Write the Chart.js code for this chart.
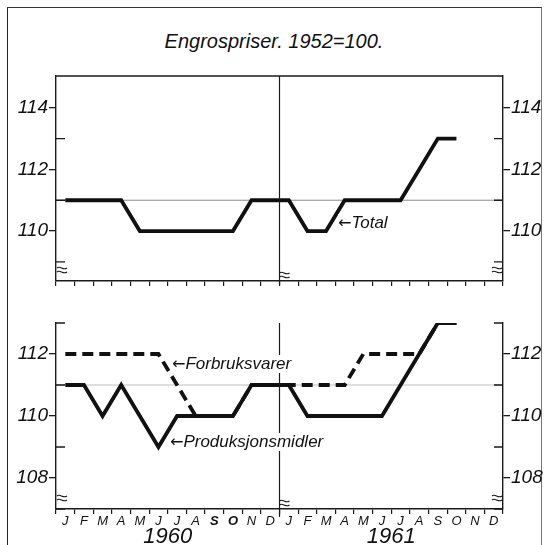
<!DOCTYPE html>
<html>
<head>
<meta charset="utf-8">
<script src="https://cdn.jsdelivr.net/npm/chart.js@4.4.1/dist/chart.umd.min.js"></script>
<style>
  html, body { margin: 0; padding: 0; background: #fff; }
  body { width: 548px; height: 545px; position: relative; overflow: hidden; font-family: "Liberation Sans", "DejaVu Sans", sans-serif; }
  .frame { position: absolute; left: 7px; top: 7px; width: 533px; height: 600px; border-left: 1.5px solid #222; border-top: 1.5px solid #333; border-right: 1px solid #777; }
  .title { position: absolute; left: 0; top: 30px; width: 548px; text-align: center; font-style: italic; font-size: 20px; color: #111; }
  canvas { position: absolute; left: 0; }
  .note { position: absolute; font-style: italic; font-size: 17px; color: #111; background: #fff; line-height: 18px; padding: 0 2px 0 0; white-space: nowrap; }
  .note .arr { font-family: "DejaVu Sans", sans-serif; font-style: normal; font-size: 16px; }
</style>
</head>
<body>
<div class="frame"></div>
<div class="title">Engrospriser. 1952=100.</div>
<canvas id="topChart" width="548" height="300" style="top:0"></canvas>
<canvas id="bottomChart" width="548" height="245" style="top:300px"></canvas>
<div class="note" style="left:338px; top:214px"><span class="arr">←</span>Total</div>
<div class="note" style="left:172px; top:355px"><span class="arr">←</span>Forbruksvarer</div>
<div class="note" style="left:170px; top:433px"><span class="arr">←</span>Produksjonsmidler</div>

<script>
const months = ['J', 'F', 'M', 'A', 'M', 'J', 'J', 'A', 'S', 'O', 'N', 'D'];
const categories = months.concat(months);
const years = ['1960', '1961'];

// monthly values, Jan 1960 - Dec 1961
const total = [111, 111, 111, 111, 110, 110, 110, 110, 110, 110, 111, 111,
               111, 110, 110, 111, 111, 111, 111, 112, 113, 113, null, null];
const forbruksvarer = [112, 112, 112, 112, 112, 112, 111, 110, 110, 110, 111, 111,
                       111, 111, 111, 111, 112, 112, 112, 112, 113, 113, null, null];
const produksjonsmidler = [111, 111, 110, 111, 110, 109, 110, 110, 110, 110, 111, 111,
                           111, 110, 110, 110, 110, 110, 111, 112, 113, 113, null, null];

const topRange = [108.38, 115.03];
const bottomRange = [107, 113];
const refLine = 111;

const ink = '#1a1a1a';
const fontFamily = '"Liberation Sans", "DejaVu Sans", sans-serif';
const isEven = v => Math.abs(v - Math.round(v)) < 1e-6 && Math.round(v) % 2 === 0;

function yAxis(pos, range) {
    return {
        position: pos,
        min: range[0],
        max: range[1],
        afterFit: s => { s.width = pos === 'left' ? 56 : 45; },
        ticks: {
            stepSize: 1,
            autoSkip: false,
            padding: 1,
            color: '#111',
            font: { family: fontFamily, size: 19, style: 'italic' },
            callback: v => isEven(v) ? String(Math.round(v)) : ''
        },
        grid: {
            drawOnChartArea: false,
            tickLength: 7,
            lineWidth: 1.3,
            color: ctx => (ctx.tick && isEven(ctx.tick.value)) ? ink : 'rgba(0,0,0,0)'
        },
        border: { display: true, color: ink, width: 1.4 }
    };
}

function xAxis(showLabels, height) {
    return {
        offset: true,
        afterFit: s => { s.height = height; },
        grid: { offset: true, drawOnChartArea: false, tickLength: 5, lineWidth: 1.2, color: ink },
        border: { display: true, color: ink, width: 1.4 },
        ticks: {
            display: showLabels,
            autoSkip: false,
            maxRotation: 0,
            padding: 0,
            color: '#111',
            font: ctx => ({ family: fontFamily, size: 13, style: 'italic',
                            weight: (ctx.index === 8 || ctx.index === 9) ? 'bold' : 'normal' })
        }
    };
}

function breakMark(ctx, x, y) {
    ctx.save();
    ctx.strokeStyle = ink;
    ctx.lineWidth = 1.1;
    for (let i = 0; i < 2; i++) {
        const yy = y + i * 4;
        ctx.beginPath();
        ctx.moveTo(x - 5, yy);
        ctx.bezierCurveTo(x - 2, yy - 3, x + 1, yy + 3, x + 5, yy);
        ctx.stroke();
    }
    ctx.restore();
}

function decorations(isTop) {
    return {
        id: 'decor',
        afterDraw(chart) {
            const ctx = chart.ctx;
            const a = chart.chartArea;
            const y = chart.scales.y;
            const xs = chart.scales.x;
            ctx.save();
            // faint reference line at 111
            const yRef = y.getPixelForValue(refLine);
            ctx.strokeStyle = isTop ? 'rgba(0,0,0,0.45)' : 'rgba(0,0,0,0.25)';
            ctx.lineWidth = 1;
            ctx.beginPath();
            ctx.moveTo(a.left, yRef); ctx.lineTo(a.right, yRef);
            ctx.stroke();
            // inner ticks at odd values
            ctx.strokeStyle = ink;
            ctx.lineWidth = 1.3;
            for (let v = Math.ceil(y.min); v <= y.max - 0.2 || (!isTop && v <= y.max); v++) {
                if (v % 2 === 0) continue;
                const py = y.getPixelForValue(v);
                ctx.beginPath();
                ctx.moveTo(a.left, py); ctx.lineTo(a.left + 9, py);
                ctx.moveTo(a.right, py); ctx.lineTo(a.right - 9, py);
                ctx.stroke();
            }
            // year divider
            const xd = (xs.getPixelForValue(11) + xs.getPixelForValue(12)) / 2;
            ctx.lineWidth = 1.2;
            ctx.beginPath();
            ctx.moveTo(xd, a.top);
            ctx.lineTo(xd, a.bottom + (isTop ? 3 : 8));
            ctx.stroke();
            if (isTop) {
                ctx.lineWidth = 1.4;
                ctx.beginPath();
                ctx.moveTo(a.left, a.top); ctx.lineTo(a.right, a.top);
                ctx.stroke();
            }
            // axis break marks
            breakMark(ctx, a.left + 6, a.bottom - 13);
            breakMark(ctx, xd + 5, a.bottom - 8);
            breakMark(ctx, a.right - 6, a.bottom - 13);
            // years
            if (!isTop) {
                ctx.fillStyle = '#111';
                ctx.font = 'italic 22px ' + fontFamily;
                ctx.textAlign = 'center';
                ctx.textBaseline = 'middle';
                years.forEach((yr, i) => {
                    const cx = (xs.getPixelForValue(i * 12) + xs.getPixelForValue(i * 12 + 11)) / 2;
                    ctx.fillText(yr, cx, a.bottom + 28);
                });
            }
            ctx.restore();
        }
    };
}

function lineSet(label, data, dashed) {
    return {
        label: label,
        data: data,
        borderColor: '#111',
        borderWidth: 3.8,
        borderDash: dashed ? [11, 6] : [],
        borderJoinStyle: 'miter',
        borderCapStyle: 'butt',
        pointRadius: 0,
        tension: 0,
        fill: false,
        spanGaps: false
    };
}

function makeChart(id, datasets, range, isTop) {
    return new Chart(document.getElementById(id), {
        type: 'line',
        data: { labels: categories, datasets: datasets },
        options: {
            responsive: false,
            animation: false,
            layout: { padding: { top: isTop ? 76 : 23, left: 0, right: 0, bottom: 0 } },
            plugins: { legend: { display: false }, tooltip: { enabled: false } },
            scales: {
                x: xAxis(!isTop, isTop ? 19 : 36),
                y: yAxis('left', range),
                y2: yAxis('right', range)
            }
        },
        plugins: [decorations(isTop)]
    });
}

makeChart('topChart', [lineSet('Total', total, false)], topRange, true);
makeChart('bottomChart', [
    lineSet('Forbruksvarer', forbruksvarer, true),
    lineSet('Produksjonsmidler', produksjonsmidler, false)
], bottomRange, false);
</script>
</body>
</html>
